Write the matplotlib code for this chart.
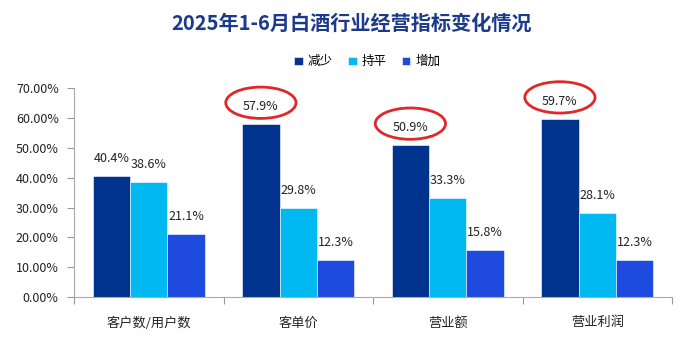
import numpy as np
import matplotlib
matplotlib.use("Agg")
import matplotlib.pyplot as plt
from matplotlib.patches import Ellipse

plt.rcParams['font.family'] = ['Noto Sans CJK SC', 'DejaVu Sans']

categories = ['客户数/用户数', '客单价', '营业额', '营业利润']
series_names = ['减少', '持平', '增加']
decrease = [40.4, 57.9, 50.9, 59.7]
flat = [38.6, 29.8, 33.3, 28.1]
increase = [21.1, 12.3, 15.8, 12.3]
colors = ['#00338D', '#00B9F1', '#1F4AE0']
circled = [1, 2, 3]  # groups whose "减少" label is circled

fig = plt.figure(figsize=(6.89, 3.47), dpi=100)
ax = fig.add_axes([0.1074, 0.144, 0.868, 0.602])

x = np.arange(len(categories))
w = 0.25
for i, (vals, c, name) in enumerate(zip([decrease, flat, increase], colors, series_names)):
    pos = x + (i - 1) * w
    ax.bar(pos, vals, width=w, color=c, label=name, edgecolor='white', linewidth=0.4)
    for px, v in zip(pos, vals):
        ax.annotate(f'{v:.1f}%', (px, v), xytext=(0, 8), textcoords='offset points',
                    ha='center', va='bottom', fontsize=9, color='#222222')

for g in circled:
    ax.add_patch(Ellipse((x[g] - w, decrease[g] + 7.2), 0.47, 10.5, fill=False,
                         edgecolor='#E0282A', linewidth=2, clip_on=False))

ax.set_xlim(-0.5, len(categories) - 0.5)
ax.set_ylim(0, 70)
ax.set_yticks(np.arange(0, 71, 10))
ax.set_yticklabels([f'{t:.2f}%' for t in np.arange(0, 71, 10)], fontsize=9, color='#222222')
ax.set_xticks(np.arange(-0.5, len(categories), 1), minor=False)
ax.set_xticklabels([])
ax.set_xticks(x, minor=True)
ax.set_xticklabels(categories, minor=True, fontsize=9.5, color='#222222')
ax.tick_params(axis='x', which='minor', length=0, pad=14)
ax.tick_params(axis='x', which='major', length=5, color='#999999')
ax.tick_params(axis='y', length=5, color='#999999', pad=6)
for s in ['top', 'right']:
    ax.spines[s].set_visible(False)
for s in ['left', 'bottom']:
    ax.spines[s].set_color('#AAAAAA')

fig.text(0.51, 0.932, '2025年1-6月白酒行业经营指标变化情况', ha='center', va='center',
         fontsize=14.5, fontweight='bold', color='#1B3A8C')
fig.legend(loc='center', bbox_to_anchor=(0.533, 0.822), ncol=3, frameon=False,
           fontsize=9, handlelength=0.7, handleheight=0.7, handletextpad=0.4, columnspacing=1.2)

fig.savefig('out.png', dpi=100)
